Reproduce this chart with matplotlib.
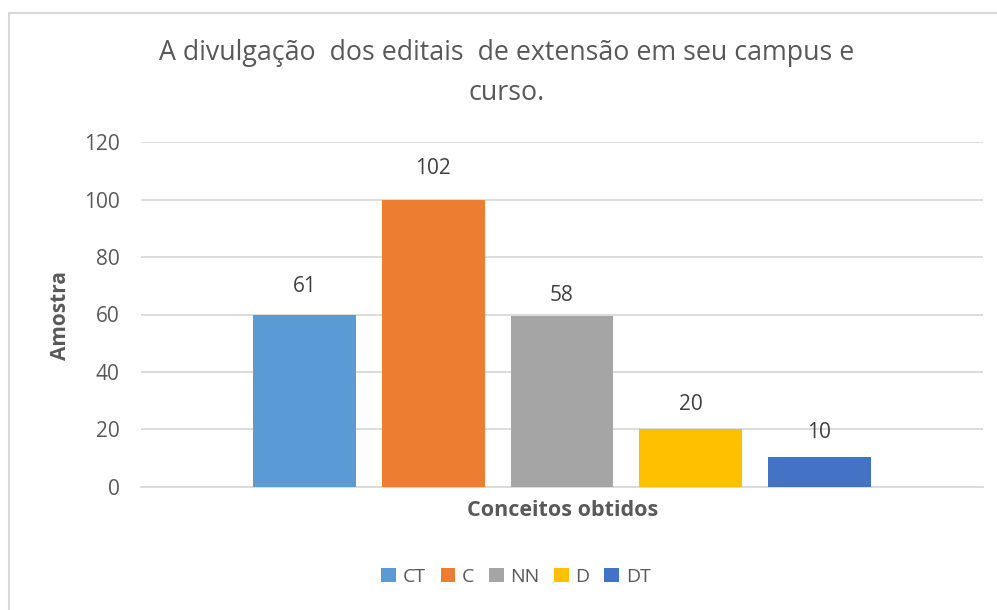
import matplotlib
matplotlib.use("Agg")
import matplotlib.pyplot as plt
from matplotlib.patches import Patch, Rectangle

categories = ["CT", "C", "NN", "D", "DT"]
label_values = [61, 102, 58, 20, 10]
bar_heights = [60, 100, 59.5, 20, 10.5]
colors = ["#5B9BD5", "#ED7D31", "#A5A5A5", "#FFC000", "#4472C4"]
yticks = [0, 20, 40, 60, 80, 100, 120]
title_lines = ["A divulgação  dos editais  de extensão em seu campus e", "curso."]
xlabel = "Conceitos obtidos"
ylabel = "Amostra"

FONT = ["Open Sans", "DejaVu Sans"]
plt.rcParams["font.family"] = FONT

W, H = 997, 610
fig = plt.figure(figsize=(W / 100, H / 100), dpi=100)
fig.patch.set_facecolor("white")

# chart border
fig.patches.append(Rectangle((9 / W, -0.1), 1.2, (H - 13) / H + 0.1,
                             transform=fig.transFigure, fill=False,
                             edgecolor="#D9D9D9", linewidth=1.5))

ax = fig.add_axes([141 / W, 1 - 486.7 / H, (983 - 141) / W, (486.7 - 142.3) / H])
x = list(range(len(categories)))
ax.bar(x, bar_heights, width=0.8, color=colors, zorder=3)
ax.set_xlim(-1.27, 5.27)
ax.set_ylim(0, 120)
ax.set_yticks(yticks)
ax.set_xticks([])
ax.grid(axis="y", color="#D9D9D9", linewidth=1.3, zorder=0)
for s in ["top", "right", "left"]:
    ax.spines[s].set_visible(False)
ax.spines["bottom"].set_color("#D9D9D9")
ax.spines["bottom"].set_linewidth(1.3)
ax.tick_params(axis="y", length=0, pad=15.5, labelsize=15, labelcolor="#595959")

for xi, v in zip(x, label_values):
    ax.annotate(str(v), (xi, v), xytext=(0, 25), textcoords="offset pixels",
                ha="center", va="center", fontsize=15, color="#404040")

for i, line in enumerate(title_lines):
    fig.text(507 / W, 1 - (53 + 40 * i) / H, line, ha="center", va="center",
             fontsize=19.3, color="#595959")

fig.text(60 / W, 1 - 315 / H, ylabel, rotation=90, ha="center", va="center",
         fontsize=15, fontweight="bold", color="#595959")
fig.text(563 / W, 1 - 510 / H, xlabel, ha="center", va="center",
         fontsize=15.5, fontweight="bold", color="#595959")

handles = [Patch(facecolor=c, edgecolor="none") for c in colors]
fig.legend(handles, categories, loc="center", bbox_to_anchor=(516 / W, 1 - 577 / H),
           ncol=5, frameon=False, fontsize=14, labelcolor="#595959",
           handlelength=0.75, handleheight=0.75, handletextpad=0.35,
           columnspacing=0.75)

fig.savefig("out.png", dpi=100, facecolor="white")
